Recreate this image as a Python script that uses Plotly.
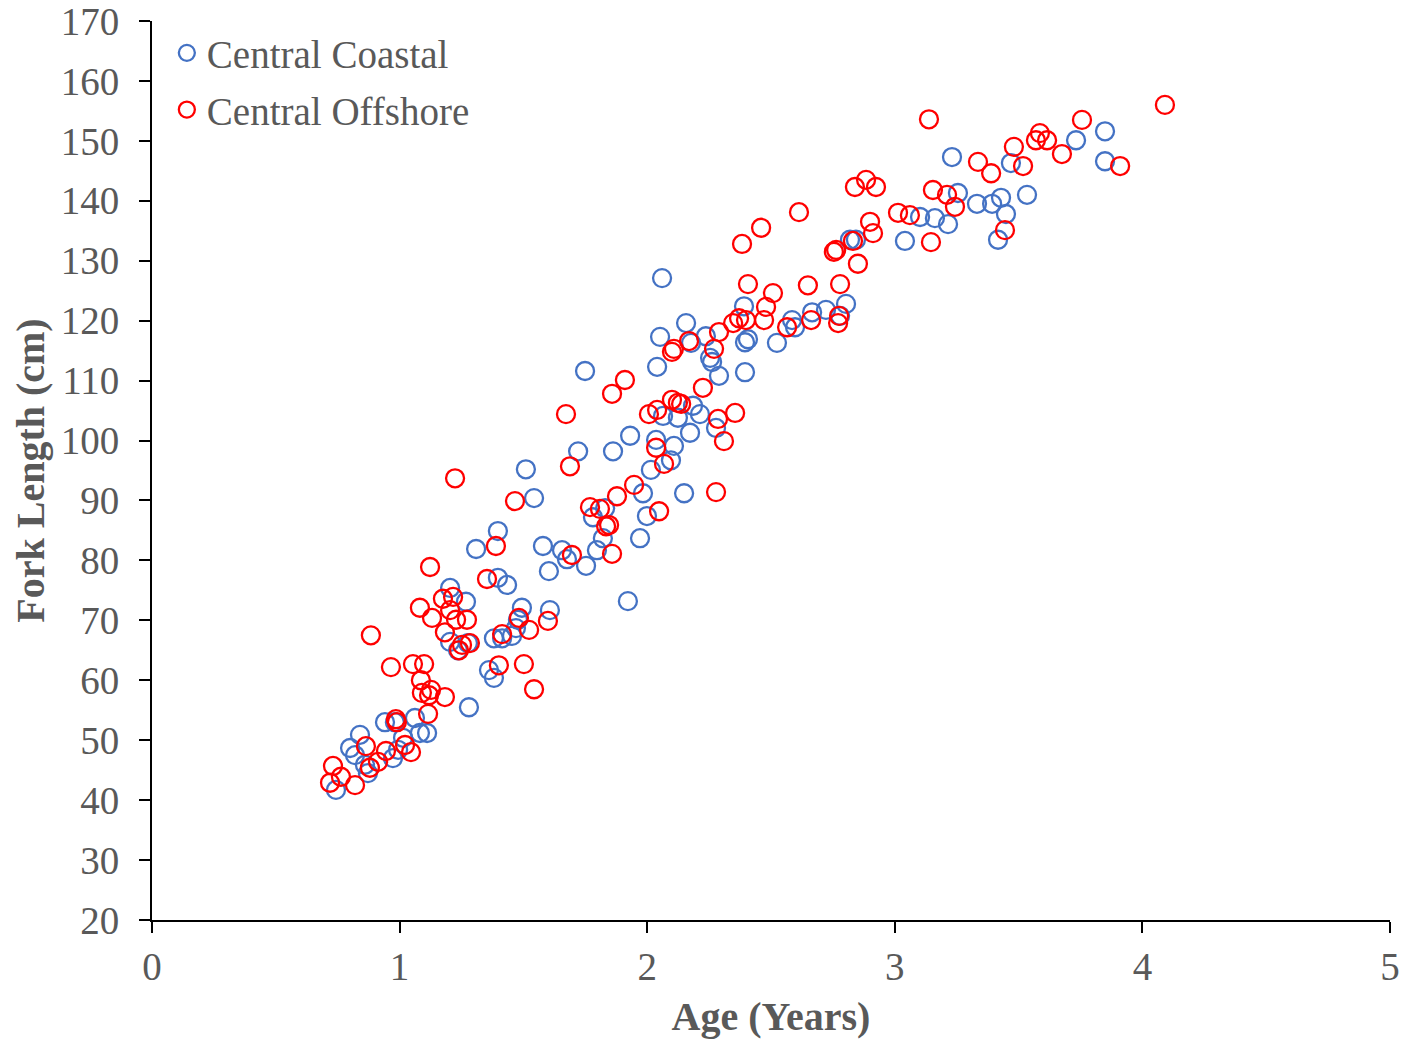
import plotly.graph_objects as go

# Central Coastal (blue)
coastal_age = [0.743, 0.800, 0.820, 0.840, 0.860, 0.872, 0.941, 0.973, 0.981, 0.994,
               1.014, 1.062, 1.082, 1.111, 1.204, 1.204, 1.236, 1.268, 1.280, 1.276,
               1.309, 1.361, 1.381, 1.381, 1.397, 1.397, 1.414, 1.434, 1.454, 1.470,
               1.478, 1.494, 1.510, 1.543, 1.579, 1.603, 1.607, 1.656, 1.676, 1.721,
               1.749, 1.753, 1.781, 1.797, 1.821, 1.830, 1.862, 1.922, 1.931, 1.971,
               1.983, 1.999, 2.015, 2.036, 2.040, 2.052, 2.060, 2.064, 2.096, 2.108,
               2.124, 2.149, 2.157, 2.173, 2.177, 2.185, 2.213, 2.237, 2.254, 2.262,
               2.278, 2.290, 2.391, 2.395, 2.395, 2.407, 2.524, 2.585, 2.597, 2.666,
               2.722, 2.779, 2.803, 2.819, 2.843, 3.041, 3.102, 3.162, 3.215, 3.231,
               3.255, 3.332, 3.393, 3.417, 3.429, 3.449, 3.469, 3.534, 3.732, 3.849,
               3.849]
coastal_fl = [41.7, 48.7, 47.5, 50.9, 45.9, 44.5, 53.0, 47.0, 53.0, 48.4,
              50.4, 53.7, 51.2, 51.2, 75.4, 66.4, 65.0, 73.1, 55.5, 66.2,
              81.9, 61.7, 60.4, 67.0, 84.9, 77.1, 67.0, 75.9, 67.4, 68.7,
              70.1, 72.1, 95.2, 90.4, 82.4, 78.2, 71.7, 81.7, 80.2, 98.2,
              111.6, 79.1, 87.2, 81.7, 83.7, 88.7, 98.2, 73.2, 100.8, 83.7,
              91.2, 87.4, 95.1, 100.1, 112.3, 117.3, 127.1, 104.1, 96.7, 99.1,
              103.8, 91.2, 119.6, 101.3, 116.3, 105.8, 104.4, 117.4, 113.8, 113.1,
              102.1, 110.8, 122.4, 111.4, 116.4, 116.9, 116.3, 120.1, 118.9, 121.4,
              121.8, 120.8, 122.8, 133.5, 133.5, 133.3, 137.3, 137.1, 136.1, 147.3,
              141.3, 139.5, 139.5, 133.5, 140.5, 137.8, 146.3, 141.0, 150.1, 151.6,
              146.6]

# Central Offshore (red)
offshore_age = [0.719, 0.731, 0.763, 0.820, 0.864, 0.880, 0.884, 0.913, 0.945, 0.965,
                0.985, 0.989, 1.022, 1.046, 1.054, 1.082, 1.086, 1.090, 1.099, 1.115,
                1.119, 1.123, 1.131, 1.127, 1.183, 1.175, 1.183, 1.204, 1.224, 1.216,
                1.228, 1.240, 1.252, 1.272, 1.284, 1.353, 1.389, 1.401, 1.414, 1.466,
                1.482, 1.502, 1.523, 1.543, 1.599, 1.672, 1.688, 1.696, 1.769, 1.809,
                1.834, 1.846, 1.858, 1.858, 1.878, 1.910, 1.947, 2.007, 2.036, 2.040,
                2.048, 2.068, 2.100, 2.108, 2.100, 2.124, 2.137, 2.169, 2.225, 2.270,
                2.278, 2.286, 2.290, 2.310, 2.347, 2.355, 2.371, 2.383, 2.399, 2.407,
                2.460, 2.472, 2.480, 2.508, 2.565, 2.613, 2.649, 2.662, 2.754, 2.763,
                2.771, 2.779, 2.775, 2.831, 2.839, 2.851, 2.884, 2.900, 2.912, 2.924,
                3.013, 3.061, 3.138, 3.146, 3.154, 3.211, 3.243, 3.336, 3.389, 3.445,
                3.481, 3.518, 3.570, 3.586, 3.615, 3.675, 3.756, 3.910, 4.091]
offshore_fl = [42.9, 45.7, 43.9, 42.5, 49.0, 45.4, 67.5, 46.4, 48.2, 62.2,
               53.5, 53.0, 49.2, 48.0, 62.7, 72.1, 60.0, 57.9, 62.7, 54.4,
               57.5, 78.9, 70.4, 58.4, 57.2, 73.6, 68.0, 71.7, 93.7, 73.9,
               70.1, 65.0, 65.9, 70.1, 66.2, 76.9, 82.4, 62.5, 67.7, 89.9,
               70.4, 62.7, 68.4, 58.5, 69.9, 104.4, 95.7, 80.9, 88.9, 88.6,
               85.7, 85.9, 81.1, 107.8, 90.7, 110.1, 92.6, 104.4, 98.8, 105.1,
               88.2, 96.1, 114.8, 115.3, 106.8, 106.3, 106.1, 116.6, 108.8, 115.3,
               91.4, 103.6, 118.1, 99.9, 119.6, 104.6, 120.4, 132.8, 120.1, 126.1,
               135.5, 120.1, 122.3, 124.6, 118.9, 138.1, 125.9, 120.1, 131.5, 131.8,
               119.6, 126.1, 120.8, 133.3, 142.3, 129.5, 143.5, 136.5, 134.6, 142.3,
               138.0, 137.6, 153.6, 133.1, 141.8, 141.0, 139.0, 146.5, 144.6, 135.1,
               149.0, 145.8, 150.1, 151.3, 150.1, 147.8, 153.5, 145.8, 156.0]

x_ticks = [0, 1, 2, 3, 4, 5]
y_ticks = [20, 30, 40, 50, 60, 70, 80, 90, 100, 110, 120, 130, 140, 150, 160, 170]

FONT = "Liberation Serif, Times New Roman, serif"
GREY = "#595959"

fig = go.Figure()
fig.add_trace(go.Scatter(
    x=coastal_age, y=coastal_fl, mode="markers", name="Central Coastal",
    legendgroup="a",
    marker=dict(symbol="circle-open", size=18, color="#4472C4",
                line=dict(width=2.3, color="#4472C4")),
))
fig.add_trace(go.Scatter(
    x=offshore_age, y=offshore_fl, mode="markers", name="Central Offshore",
    legendgroup="b",
    marker=dict(symbol="circle-open", size=18, color="#FF0000",
                line=dict(width=2.3, color="#FF0000")),
))

fig.update_layout(
    width=1402, height=1039,
    margin=dict(l=152, r=12, t=21, b=119, autoexpand=False),
    paper_bgcolor="white", plot_bgcolor="white",
    font=dict(family=FONT, color=GREY, size=39),
    legend=dict(
        x=0.012, y=1.0, xanchor="left", yanchor="top",
        bgcolor="rgba(0,0,0,0)", font=dict(size=39, color=GREY, family=FONT),
        tracegroupgap=3, itemsizing="trace", traceorder="grouped",
    ),
    xaxis=dict(
        range=[0, 5], tickvals=x_ticks, ticktext=[str(v) for v in x_ticks],
        showgrid=False, zeroline=False, showline=True, linecolor="black",
        linewidth=2, ticks="outside", ticklen=11, tickwidth=2, tickcolor="black",
        tickfont=dict(size=39, color=GREY, family=FONT), automargin=False,
        ticklabeloverflow="allow",
        title=dict(text="<b>Age (Years)</b>", font=dict(size=40, color=GREY, family=FONT),
                   standoff=16),
    ),
    yaxis=dict(
        range=[20, 170], tickvals=y_ticks, ticktext=[str(v) for v in y_ticks],
        showgrid=False, zeroline=False, showline=True, linecolor="black",
        linewidth=2, ticks="outside", ticklen=11, tickwidth=2, tickcolor="black",
        tickfont=dict(size=39, color=GREY, family=FONT), automargin=False,
        ticklabeloverflow="allow", ticklabelstandoff=12,
        title=dict(text="<b>Fork Length (cm)</b>", font=dict(size=40, color=GREY, family=FONT),
                   standoff=4),
    ),
)

# remove the default 8px page margin so the figure fills the window exactly
fig.write_html(
    "out.html",
    config={"displayModeBar": False},
    post_script="document.body.style.margin='0';document.body.style.padding='0';",
)
